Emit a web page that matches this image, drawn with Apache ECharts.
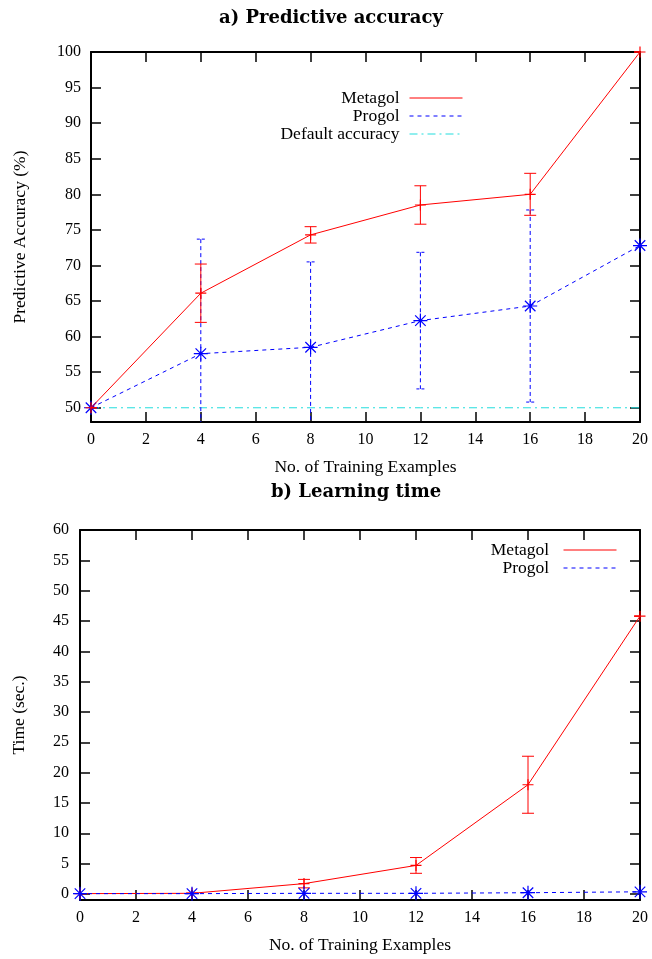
<!DOCTYPE html>
<html>
<head>
<meta charset="utf-8">
<script src="https://cdn.jsdelivr.net/npm/echarts@6/dist/echarts.min.js"></script>
<style>
  html, body { margin: 0; padding: 0; background: #fff; }
  #chart { width: 652px; height: 959px; }
</style>
</head>
<body>
<div id="chart"></div>
<script>
// training set sizes
const steps = [0, 4, 8, 12, 16, 20];

// a) predictive accuracy (%)
const accMetagol = [50, 66.1, 74.3, 78.5, 80.0, 100];
const accMetagolErr = [0, 4.1, 1.15, 2.7, 2.95, 0];
const accProgol = [50, 57.6, 58.5, 62.25, 64.3, 72.8];
const accProgolErr = [0, 16.1, 12.0, 9.6, 13.5, 0];
const accDefault = [50, 50, 50, 50, 50, 50];

// b) learning time (sec.)
const timeMetagol = [0.05, 0.1, 1.7, 4.7, 18.0, 45.8];
const timeMetagolErr = [0, 0.05, 0.7, 1.3, 4.7, 0];
const timeProgol = [0.05, 0.05, 0.1, 0.1, 0.2, 0.35];

const accTicks = [50, 55, 60, 65, 70, 75, 80, 85, 90, 95, 100];
const timeTicks = [0, 5, 10, 15, 20, 25, 30, 35, 40, 45, 50, 55, 60];

const serif = "Liberation Serif";
const RED = "#ff0000";
const BLUE = "#0000ff";
const CYAN = "#22dddd";

const STAR = "path://M0 -10 L0 10 M-10 0 L10 0 M-7.5 -7.5 L7.5 7.5 M-7.5 7.5 L7.5 -7.5";
const PLUS = "path://M-10 0 L10 0 M0 -10 L0 10";

const pairs = (xs, ys) => xs.map((x, i) => [x, ys[i]]);
const errRows = (xs, ys, es) => xs.map((x, i) => [x, ys[i] - es[i], ys[i] + es[i]]);

function errorBars(color, dash, capDash, capW, yMin) {
  return function (params, api) {
    const x = api.value(0);
    const lo = api.value(1);
    const hi = api.value(2);
    const xl = api.coord([0, yMin])[0];
    const xr = api.coord([20, yMin])[0];
    const pHi = api.coord([x, hi]);
    const pLo = api.coord([x, Math.max(lo, yMin)]);
    const style = { stroke: color, lineWidth: 1, lineDash: dash, fill: null };
    const capStyle = { stroke: color, lineWidth: 1, lineDash: capDash, fill: null };
    const cap = (p) => ({
      type: "line",
      shape: { x1: Math.max(xl, p[0] - capW / 2), y1: p[1], x2: Math.min(xr, p[0] + capW / 2), y2: p[1] },
      style: capStyle,
    });
    const children = [
      { type: "line", shape: { x1: pHi[0], y1: pHi[1], x2: pLo[0], y2: pLo[1] }, style: style },
      cap(pHi),
    ];
    if (lo >= yMin) children.push(cap(pLo));
    return { type: "group", children: children };
  };
}

function xAxes(gridIndex) {
  const base = {
    type: "value", gridIndex: gridIndex, min: 0, max: 20, interval: 2,
    axisLine: { show: true, onZero: false, lineStyle: { color: "#000", width: 2 } },
    axisTick: { inside: true, length: 10, lineStyle: { color: "#000", width: 1.5 } },
    splitLine: { show: false },
  };
  return [
    Object.assign({}, base, {
      position: "bottom",
      axisLabel: { margin: 10, color: "#000", fontFamily: serif, fontSize: 16 },
      name: "No. of Training Examples", nameLocation: "middle", nameGap: 36,
      nameTextStyle: { color: "#000", fontFamily: serif, fontSize: 17.5 },
    }),
    Object.assign({}, base, { position: "top", axisLabel: { show: false } }),
  ];
}

function yAxes(gridIndex, min, max, ticks, name, nameGap, labelMargin) {
  const base = {
    type: "value", gridIndex: gridIndex, min: min, max: max,
    axisLine: { show: true, onZero: false, lineStyle: { color: "#000", width: 2 } },
    axisTick: { inside: true, length: 10, customValues: ticks, lineStyle: { color: "#000", width: 1.5 } },
    splitLine: { show: false },
  };
  return [
    Object.assign({}, base, {
      position: "left",
      axisLabel: { customValues: ticks, margin: labelMargin, color: "#000", fontFamily: serif, fontSize: 16 },
      name: name, nameLocation: "middle", nameGap: nameGap, nameRotate: 90,
      nameTextStyle: { color: "#000", fontFamily: serif, fontSize: 17.5 },
    }),
    Object.assign({}, base, { position: "right", axisLabel: { show: false } }),
  ];
}

function legendRow(name, right, top) {
  return {
    data: [name], orient: "vertical", align: "right", right: right, top: top,
    itemWidth: 53, itemHeight: 13, padding: 0,
    selectedMode: false,
    itemStyle: { opacity: 0 },
    lineStyle: { width: 1 },
    textStyle: { color: "#000", fontFamily: serif, fontSize: 17.5, padding: [0, 5, 0, 0] },
  };
}

const ACC_MIN = 48;
const TIME_MIN = -1;

const chart = echarts.init(document.getElementById("chart"));
chart.setOption({
  animation: false,
  backgroundColor: "#fff",
  title: [
    { text: "a) Predictive accuracy", left: 214, top: 4,
      textStyle: { fontFamily: "DejaVu Serif", fontWeight: "bold", fontSize: 18, color: "#000" } },
    { text: "b) Learning time", left: 266, top: 478,
      textStyle: { fontFamily: "DejaVu Serif", fontWeight: "bold", fontSize: 18, color: "#000" } },
  ],
  legend: [
    legendRow("Metagol", 189, 89),
    legendRow("Progol", 189, 107),
    legendRow("Default accuracy", 189, 125),
    legendRow("Metagol ", 35, 541),
    legendRow("Progol ", 35, 559),
  ],
  grid: [
    { left: 91, right: 12, top: 52, height: 370, show: false },
    { left: 80, right: 12, top: 530, height: 370, show: false },
  ],
  xAxis: xAxes(0).concat(xAxes(1)),
  yAxis: yAxes(0, ACC_MIN, 100, accTicks, "Predictive Accuracy (%)", 62, 10)
    .concat(yAxes(1, TIME_MIN, 60, timeTicks, "Time (sec.)", 52, 11)),
  series: [
    // ---- a) accuracy ----
    { name: "Default accuracy", type: "line", xAxisIndex: 0, yAxisIndex: 0,
      data: pairs(steps, accDefault), symbol: "none",
      lineStyle: { color: CYAN, width: 1, type: [8, 4, 2, 4] }, itemStyle: { color: CYAN }, z: 1 },
    { name: "Progol", type: "line", xAxisIndex: 0, yAxisIndex: 0,
      data: pairs(steps, accProgol), symbol: STAR, symbolSize: 14,
      lineStyle: { color: BLUE, width: 1, type: [4, 4] },
      itemStyle: { color: BLUE, borderColor: BLUE, borderWidth: 1.2 }, z: 3 },
    { name: "Metagol", type: "line", xAxisIndex: 0, yAxisIndex: 0,
      data: pairs(steps, accMetagol), symbol: PLUS, symbolSize: 11,
      lineStyle: { color: RED, width: 1 },
      itemStyle: { color: RED, borderColor: RED, borderWidth: 1.2 }, z: 4 },
    { type: "custom", xAxisIndex: 0, yAxisIndex: 0, data: errRows(steps, accProgol, accProgolErr),
      renderItem: errorBars(BLUE, [4, 3], [3, 2], 8, ACC_MIN), z: 2 },
    { type: "custom", xAxisIndex: 0, yAxisIndex: 0, data: errRows(steps, accMetagol, accMetagolErr),
      renderItem: errorBars(RED, null, null, 12, ACC_MIN), z: 4 },

    // ---- b) learning time ----
    { name: "Progol ", type: "line", xAxisIndex: 2, yAxisIndex: 2,
      data: pairs(steps, timeProgol), symbol: STAR, symbolSize: 14,
      lineStyle: { color: BLUE, width: 1, type: [4, 4] },
      itemStyle: { color: BLUE, borderColor: BLUE, borderWidth: 1.2 }, z: 3 },
    { name: "Metagol ", type: "line", xAxisIndex: 2, yAxisIndex: 2,
      data: pairs(steps, timeMetagol), symbol: PLUS, symbolSize: 11,
      lineStyle: { color: RED, width: 1 },
      itemStyle: { color: RED, borderColor: RED, borderWidth: 1.2 }, z: 2 },
    { type: "custom", xAxisIndex: 2, yAxisIndex: 2, data: errRows(steps, timeMetagol, timeMetagolErr),
      renderItem: errorBars(RED, null, null, 12, TIME_MIN), z: 2 },
  ],
});
</script>
</body>
</html>
